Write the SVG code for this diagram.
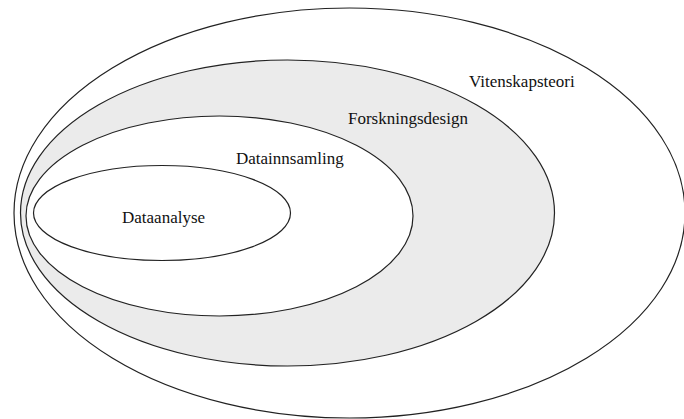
<svg xmlns="http://www.w3.org/2000/svg" width="684" height="419" viewBox="0 0 684 419">
<style>
.e{stroke:#222;stroke-width:1.2;fill:#fff}
.g{fill:#ebebeb}
.t{font-family:"Liberation Serif","Times New Roman",serif;font-size:17px;fill:#111}
</style>
<rect width="684" height="419" fill="#fff"/>
<g id="vitenskapsteori">
<ellipse class="e" cx="349.5" cy="213" rx="335.5" ry="205"/>
<text class="t" x="469" y="87">Vitenskapsteori</text>
</g>
<g id="forskningsdesign">
<ellipse class="e g" cx="287.5" cy="213" rx="267" ry="153"/>
<text class="t" x="348" y="123.5">Forskningsdesign</text>
</g>
<g id="datainnsamling">
<ellipse class="e" cx="219.5" cy="216" rx="193.5" ry="100"/>
<text class="t" x="236" y="164">Datainnsamling</text>
</g>
<g id="dataanalyse">
<ellipse class="e" cx="162" cy="213" rx="128.5" ry="47.5"/>
<text class="t" x="122" y="222.5">Dataanalyse</text>
</g>
</svg>
